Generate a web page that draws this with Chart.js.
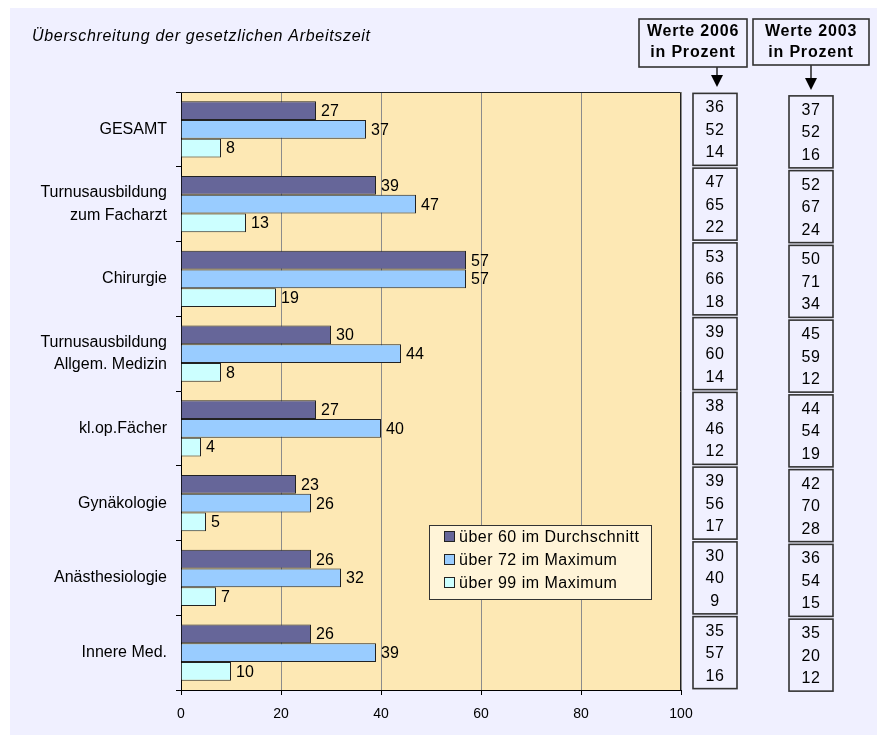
<!DOCTYPE html>
<html lang="de">

<head>
  <meta charset="utf-8">
  <title>Überschreitung der gesetzlichen Arbeitszeit</title>
  <script src="https://cdn.jsdelivr.net/npm/chart.js@4/dist/chart.umd.min.js"></script>
  <style>
    body { margin: 0; background: #fff; }
  </style>
</head>

<body>
  <canvas id="c" width="877" height="735"></canvas>
  <script>
    // Fachbereiche (Reihenfolge von oben nach unten)
    var kategorien = ['GESAMT', ['Turnusausbildung', 'zum Facharzt'], 'Chirurgie',
      ['Turnusausbildung', 'Allgem. Medizin'], 'kl.op.Fächer', 'Gynäkologie', 'Anästhesiologie', 'Innere Med.'];

    // Werte in Prozent
    var ueber60Schnitt = [27, 39, 57, 30, 27, 23, 26, 26];
    var ueber72Max = [37, 47, 57, 44, 40, 26, 32, 39];
    var ueber99Max = [8, 13, 19, 8, 4, 5, 7, 10];

    // Vergleichswerte je Fachbereich: [über 60, über 72, über 99]
    var werte2006 = [[36, 52, 14], [47, 65, 22], [53, 66, 18], [39, 60, 14], [38, 46, 12], [39, 56, 17], [30, 40, 9], [35, 57, 16]];
    var werte2003 = [[37, 52, 16], [52, 67, 24], [50, 71, 34], [45, 59, 12], [44, 54, 19], [42, 70, 28], [36, 54, 15], [35, 20, 12]];

    var xTicks = [0, 20, 40, 60, 80, 100];

    var schrift = "'Liberation Sans', Arial, sans-serif";
    Chart.defaults.font.family = schrift;
    Chart.defaults.color = '#000';

    function kasten(ctx, x, y, w, h, fill) {
      ctx.fillStyle = fill;
      ctx.fillRect(x, y, w, h);
      ctx.strokeRect(x, y, w, h);
    }

    function pfeil(ctx, x, y0, y1, spitze) {
      ctx.beginPath();
      ctx.moveTo(x, y0);
      ctx.lineTo(x, y1 - spitze);
      ctx.stroke();
      ctx.beginPath();
      ctx.moveTo(x - 6, y1 - spitze);
      ctx.lineTo(x + 6, y1 - spitze);
      ctx.lineTo(x, y1);
      ctx.closePath();
      ctx.fill();
    }

    var zusatz = {
      id: 'zusatz',
      beforeDraw: function (chart) {
        var ctx = chart.ctx, a = chart.chartArea;
        ctx.save();
        ctx.fillStyle = '#F0F0FF';
        ctx.fillRect(10, 8, chart.width - 10, chart.height - 8);
        ctx.fillStyle = '#FDE8B4';
        ctx.fillRect(a.left, a.top, a.right - a.left, a.bottom - a.top);
        ctx.restore();
      },
      afterDatasetsDraw: function (chart) {
        var ctx = chart.ctx;
        ctx.save();
        ctx.font = '16px ' + schrift;
        ctx.fillStyle = '#000';
        ctx.textBaseline = 'middle';
        ctx.textAlign = 'left';
        chart.data.datasets.forEach(function (ds, d) {
          chart.getDatasetMeta(d).data.forEach(function (bar, i) {
            ctx.fillText(ds.data[i], bar.x + 5, bar.y + 1);
          });
        });
        ctx.restore();
      },
      afterDraw: function (chart) {
        var ctx = chart.ctx, a = chart.chartArea, y = chart.scales.y;
        ctx.save();

        // Rahmen oben / rechts
        ctx.strokeStyle = '#222';
        ctx.lineWidth = 1;
        ctx.beginPath();
        ctx.moveTo(a.left, a.top + 0.5);
        ctx.lineTo(a.right - 0.5, a.top + 0.5);
        ctx.lineTo(a.right - 0.5, a.bottom);
        ctx.stroke();

        // Titel
        ctx.font = 'italic 16px ' + schrift;
        ctx.letterSpacing = '0.7px';
        ctx.fillStyle = '#000';
        ctx.textAlign = 'left';
        ctx.textBaseline = 'alphabetic';
        ctx.fillText('Überschreitung der gesetzlichen Arbeitszeit', 32, 41);

        // Legende
        ctx.strokeStyle = '#333';
        kasten(ctx, 429.5, 525.5, 222, 74, '#FFF4D8');
        ctx.font = '16px ' + schrift;
        ctx.letterSpacing = '0.5px';
        ctx.textBaseline = 'middle';
        chart.data.datasets.forEach(function (ds, d) {
          var ly = 537 + d * 23;
          ctx.strokeStyle = '#222';
          kasten(ctx, 444.5, ly - 5.5, 10, 10, ds.backgroundColor);
          ctx.fillStyle = '#000';
          ctx.fillText(ds.label, 459, ly + 1);
        });

        // Überschriften der Vergleichsspalten
        ctx.strokeStyle = '#333';
        ctx.lineWidth = 1.6;
        ctx.font = 'bold 16px ' + schrift;
        ctx.letterSpacing = '0.8px';
        ctx.textAlign = 'center';
        ctx.textBaseline = 'alphabetic';
        [['Werte 2006', 639, 108, 48, 717, 87], ['Werte 2003', 753, 116, 46, 811, 90]].forEach(function (h) {
          kasten(ctx, h[1], 19, h[2], h[3], '#F0F0FF');
          ctx.fillStyle = '#000';
          ctx.fillText(h[0], h[1] + h[2] / 2, 36);
          ctx.fillText('in Prozent', h[1] + h[2] / 2, 57);
          pfeil(ctx, h[4], 19 + h[3], h[5], 12);
        });

        // Vergleichswerte 2006 / 2003
        ctx.font = '16px ' + schrift;
        ctx.letterSpacing = '0.5px';
        [[werte2006, 693, -36], [werte2003, 789, -33.5]].forEach(function (sp) {
          sp[0].forEach(function (w, i) {
            var c = y.getPixelForValue(i);
            var top = c + sp[2];
            kasten(ctx, sp[1], top, 44, 72, '#F0F0FF');
            ctx.fillStyle = '#000';
            w.forEach(function (v, k) {
              ctx.fillText(v, sp[1] + 22, top + 19 + k * 22.5);
            });
          });
        });
        ctx.restore();
      }
    };

    var cc = new Chart(document.getElementById('c'), {
      type: 'bar',
      data: {
        labels: kategorien,
        datasets: [
          { label: 'über 60 im Durchschnitt', data: ueber60Schnitt, backgroundColor: '#666699' },
          { label: 'über 72 im Maximum', data: ueber72Max, backgroundColor: '#99CCFF' },
          { label: 'über 99 im Maximum', data: ueber99Max, backgroundColor: '#CCFFFF' }
        ]
      },
      options: {
        indexAxis: 'y',
        responsive: false,
        animation: false,
        datasets: {
          bar: { categoryPercentage: 0.75, barPercentage: 1, borderColor: '#222', borderWidth: 1 }
        },
        layout: { padding: { left: 0, right: 196, top: 92, bottom: 0 } },
        plugins: {
          legend: { display: false },
          tooltip: { enabled: false }
        },
        scales: {
          x: {
            min: 0,
            max: 100,
            afterFit: function (s) { s.height = 45; },
            afterBuildTicks: function (s) { s.ticks = xTicks.map(function (v) { return { value: v }; }); },
            grid: { color: '#8c8c8c', tickColor: '#000', tickLength: 5 },
            border: { color: '#000' },
            ticks: { font: { size: 14 }, padding: 11 }
          },
          y: {
            afterFit: function (s) { s.width = 181; },
            grid: { drawOnChartArea: false, color: '#000', tickLength: 5 },
            border: { color: '#000' },
            ticks: { font: { size: 16, lineHeight: 1.4 }, padding: 9 }
          }
        }
      },
      plugins: [zusatz]
    });
  </script>
</body>

</html>
